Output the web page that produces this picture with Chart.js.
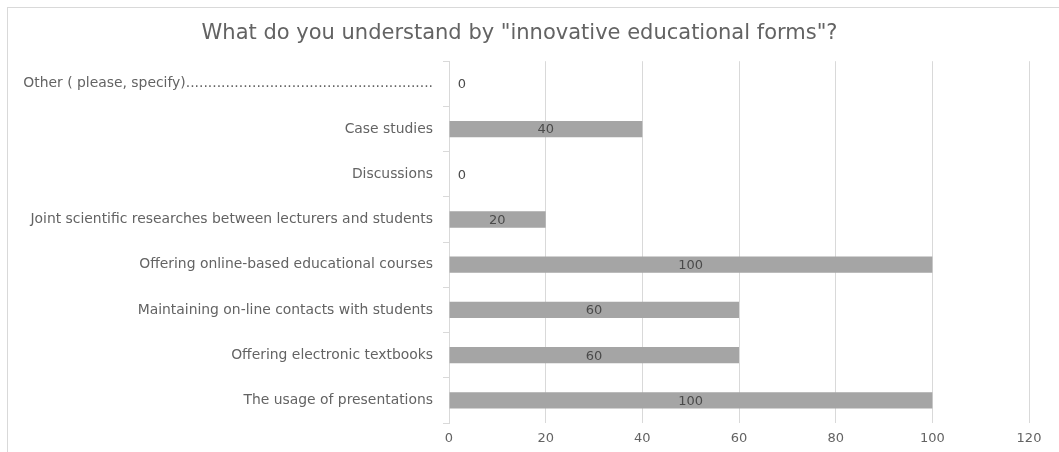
<!DOCTYPE html>
<html>
<head>
<meta charset="utf-8">
<script src="https://cdn.jsdelivr.net/npm/chart.js@4.4.0/dist/chart.umd.min.js"></script>
<style>
  html, body { margin: 0; padding: 0; background: #fff; overflow: hidden; }
  #wrap { position: absolute; left: 0; top: 0; width: 1059px; height: 452px; }
  #frame { position: absolute; left: 7px; top: 7px; width: 1100px; height: 500px;
           border-left: 1px solid #d9d9d9; border-top: 1px solid #d9d9d9; pointer-events: none; }
</style>
</head>
<body>
<div id="wrap"><canvas id="chart" width="1059" height="452"></canvas></div>
<div id="frame"></div>
<script>
var categories = [
  'Other ( please, specify)........................................................',
  'Case studies',
  'Discussions',
  'Joint scientific researches between lecturers and students',
  'Offering online-based educational courses',
  'Maintaining on-line contacts with students',
  'Offering electronic textbooks',
  'The usage of presentations'
];
var values = [0, 40, 0, 20, 100, 60, 60, 100];
var xTicks = [0, 20, 40, 60, 80, 100, 120];

var fontFamily = '"DejaVu Sans", Verdana, sans-serif';

// writes each value inside its bar (or just right of the axis when zero)
var valueLabels = {
  id: 'valueLabels',
  afterDatasetsDraw: function(chart) {
    var ctx = chart.ctx;
    var meta = chart.getDatasetMeta(0);
    var xScale = chart.scales.x;
    ctx.save();
    ctx.font = '13px ' + fontFamily;
    ctx.fillStyle = '#4a4a4a';
    ctx.textAlign = 'center';
    ctx.textBaseline = 'middle';
    meta.data.forEach(function(bar, i) {
      var v = values[i];
      var x = v === 0 ? xScale.getPixelForValue(0) + 13 : (xScale.getPixelForValue(0) + bar.x) / 2;
      ctx.fillText(String(v), x, bar.y + 1);
    });
    ctx.restore();
  }
};

var chart = new Chart(document.getElementById('chart'), {
  type: 'bar',
  data: {
    labels: categories,
    datasets: [{
      data: values,
      backgroundColor: '#a5a5a5',
      borderWidth: 0,
      barPercentage: 0.36,
      categoryPercentage: 1
    }]
  },
  options: {
    indexAxis: 'y',
    responsive: false,
    animation: false,
    layout: { padding: { left: 10, right: 30, top: 0, bottom: 0 } },
    plugins: {
      legend: { display: false },
      tooltip: { enabled: false },
      title: {
        display: true,
        text: 'What do you understand by "innovative educational forms"?',
        color: '#636363',
        font: { family: fontFamily, size: 21, weight: 'normal' },
        padding: { top: 21, bottom: 15 }
      }
    },
    scales: {
      x: {
        min: 0,
        max: 120,
        afterBuildTicks: function(scale) {
          scale.ticks = xTicks.map(function(v) { return { value: v }; });
        },
        afterFit: function(scale) { scale.height = 29; },
        grid: { color: '#d9d9d9', drawTicks: false },
        border: { display: false },
        ticks: { color: '#636363', padding: 8, font: { family: fontFamily, size: 13 } }
      },
      y: {
        afterFit: function(scale) { scale.width = 439; },
        grid: { offset: true, drawOnChartArea: false, drawTicks: true, tickLength: 6, color: '#d9d9d9' },
        border: { display: true, color: '#d9d9d9' },
        ticks: { color: '#636363', padding: 10, font: { family: fontFamily, size: 13.9 } }
      }
    }
  },
  plugins: [valueLabels]
});
</script>
</body>
</html>
